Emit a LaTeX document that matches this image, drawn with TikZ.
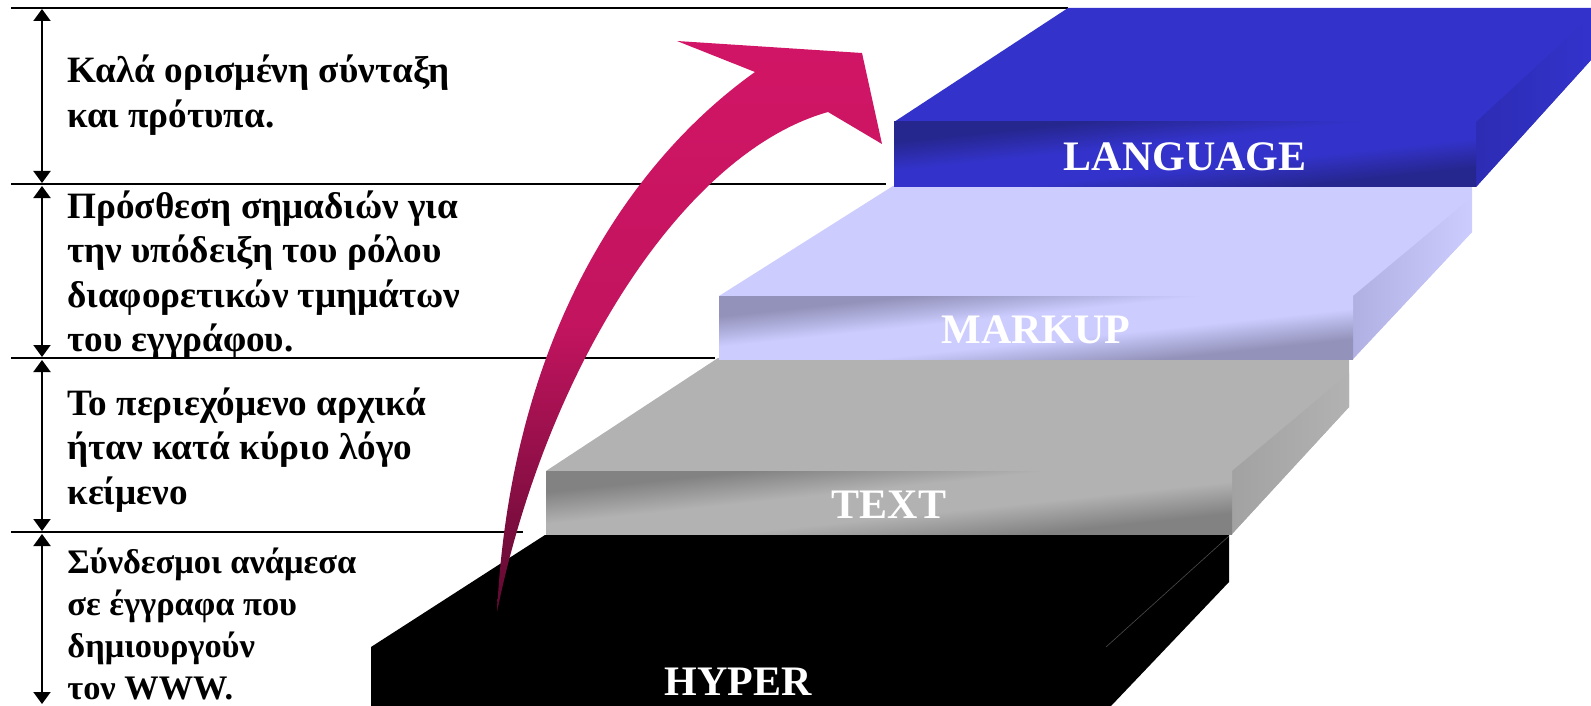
\documentclass[tikz,border=0pt]{standalone}
\usepackage{fontspec}
\setmainfont{Liberation Serif}
\usetikzlibrary{arrows.meta}
\definecolor{langtop}{HTML}{3333CC}
\definecolor{langdark}{HTML}{26268F}
\definecolor{langside}{HTML}{2C2CB4}
\definecolor{marktop}{HTML}{CCCCFF}
\definecolor{markdark}{HTML}{9292BA}
\definecolor{markside}{HTML}{B0B0E2}
\definecolor{texttop}{HTML}{B2B2B2}
\definecolor{textdark}{HTML}{828282}
\definecolor{textside}{HTML}{A2A2A2}
\definecolor{arrtop}{HTML}{D21566}
\definecolor{arrmid}{HTML}{C2145F}
\definecolor{arrbot}{HTML}{5E0A30}
\pgfdeclareverticalshading{langfront}{100bp}{color(0bp)=(langdark); color(31bp)=(langdark); color(44bp)=(langtop); color(56bp)=(langtop); color(69bp)=(langdark); color(100bp)=(langdark)}
\pgfdeclareverticalshading{markfront}{100bp}{color(0bp)=(markdark); color(31bp)=(markdark); color(44bp)=(marktop); color(56bp)=(marktop); color(69bp)=(markdark); color(100bp)=(markdark)}
\pgfdeclareverticalshading{textfront}{100bp}{color(0bp)=(textdark); color(31bp)=(textdark); color(44bp)=(texttop); color(56bp)=(texttop); color(69bp)=(textdark); color(100bp)=(textdark)}
\tikzset{
  sepline/.style={line width=1.1pt, black},
  dimarrow/.style={line width=1pt, {Triangle[width=8.5pt,length=6pt]}-{Triangle[width=8.5pt,length=6pt]}},
  desc/.style={anchor=base west, inner sep=0pt, font=\fontsize{18.6}{22}\selectfont\bfseries},
  descs/.style={desc, font=\fontsize{17.2}{21}\selectfont\bfseries},
  label/.style={anchor=base, inner sep=0pt, text=white, font=\fontsize{21}{24}\selectfont\bfseries},
  frontface/.style={shading=#1, shading angle=6},
}
\begin{document}
\begin{tikzpicture}[x=0.5pt,y=-0.5pt]
\useasboundingbox (0,0) rectangle (1591,706);
% separator lines
\coordinate (l1a) at (11,8);   \coordinate (l1b) at (1068,8);
\coordinate (l2a) at (11,184); \coordinate (l2b) at (886,184);
\coordinate (l3a) at (11,358); \coordinate (l3b) at (715,358);
\coordinate (l4a) at (11,532); \coordinate (l4b) at (523,532);
\draw[sepline] (l1a) -- (l1b);
\draw[sepline] (l2a) -- (l2b);
\draw[sepline] (l3a) -- (l3b);
\draw[sepline] (l4a) -- (l4b);
% dimension arrows
\coordinate (d1a) at (42,9);   \coordinate (d1b) at (42,183);
\coordinate (d2a) at (42,186); \coordinate (d2b) at (42,357);
\coordinate (d3a) at (42,360); \coordinate (d3b) at (42,531);
\coordinate (d4a) at (42,534); \coordinate (d4b) at (42,704);
\draw[dimarrow] (d1a) -- (d1b);
\draw[dimarrow] (d2a) -- (d2b);
\draw[dimarrow] (d3a) -- (d3b);
\draw[dimarrow] (d4a) -- (d4b);
% texts
\node[desc] (a1) at (67,83)  {Καλά ορισμένη σύνταξη};
\node[desc] (a2) at (67,128) {και πρότυπα.};
\node[desc] (b1) at (67,219) {Πρόσθεση σημαδιών για};
\node[desc] (b2) at (67,263) {την υπόδειξη του ρόλου};
\node[desc] (b3) at (67,307) {διαφορετικών τμημάτων};
\node[desc] (b4) at (67,351) {του εγγράφου.};
\node[desc] (c1) at (67,415) {Το περιεχόμενο αρχικά};
\node[desc] (c2) at (67,459) {ήταν κατά κύριο λόγο};
\node[desc] (c3) at (67,504) {κείμενο};
\node[descs] (e1) at (67,573) {Σύνδεσμοι ανάμεσα};
\node[descs] (e2) at (67,615) {σε έγγραφα που};
\node[descs] (e3) at (67,657) {δημιουργούν};
\node[descs] (e4) at (67,699) {τον WWW.};
% HYPER slab
\fill[black] (371,647) -- (545,535) -- (1229,535) -- (1229,582) -- (1111,706) -- (371,706) -- cycle;
\draw[line width=0.3pt, black!70!white] (1229,536) -- (1106,647);
% TEXT slab
\fill[texttop] (546,471) -- (718,358) -- (1349,358) -- (1349,407) -- (1232,534) -- (546,534) -- cycle;
\shade[left color=textside, right color=texttop] (1232,471) -- (1349,373) -- (1349,407) -- (1232,534) -- cycle;
\shade[frontface=textfront] (546,471) rectangle (1232,534);
% MARKUP slab
\fill[marktop] (719,296) -- (893,186) -- (1472,186) -- (1472,232) -- (1353,359) -- (719,359) -- cycle;
\shade[left color=markside, right color=marktop] (1353,296) -- (1472,197) -- (1472,232) -- (1353,359) -- cycle;
\shade[frontface=markfront] (719,296) rectangle (1353,359);
% LANGUAGE slab
\fill[langtop] (894,122) -- (1068,8) -- (1591,8) -- (1591,60) -- (1476,187) -- (894,187) -- cycle;
\shade[left color=langside, right color=langtop] (1476,122) -- (1591,16) -- (1591,60) -- (1476,187) -- cycle;
\shade[frontface=langfront] (894,122) rectangle (1476,187);
% labels
\node[label] (lang) at (1185,170) {LANGUAGE};
\node[label] (mark) at (1036,343) {MARKUP};
\node[label] (text) at (889,518) {TEXT};
\node[label] (hyper) at (738,695) {HYPER};
% curved arrow
\coordinate (tail) at (497,612);
\coordinate (outn) at (755,72);
\coordinate (inn) at (828,112);
\coordinate (barbl) at (677,41);
\coordinate (tip) at (862,53);
\coordinate (barbr) at (882,144);
\shade[top color=arrtop, bottom color=arrbot, middle color=arrmid]
  (tail) .. controls (511,332) and (633,159) .. (outn)
  -- (barbl) -- (tip) -- (barbr) -- (inn)
  .. controls (684,152.5) and (547,367) .. (tail) -- cycle;
\end{tikzpicture}
\end{document}
